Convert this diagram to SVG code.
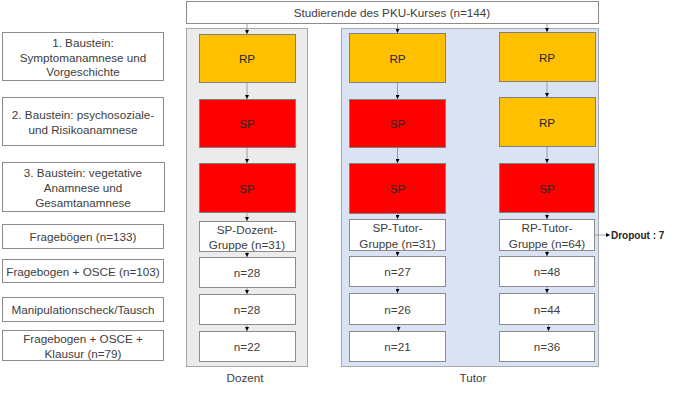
<svg xmlns="http://www.w3.org/2000/svg" width="683" height="393" viewBox="0 0 683 393">
<defs>
<marker id="ah" markerWidth="4" markerHeight="4" refX="4" refY="2" orient="auto" markerUnits="userSpaceOnUse"><path d="M0,0 L4,2 L0,4 z" fill="#000"/></marker>
<style>
text{font-family:"Liberation Sans",Arial,sans-serif;font-size:11.7px;fill:#404040;text-anchor:middle;dominant-baseline:central}
.box{fill:#fff;stroke:#8c8c8c;stroke-width:1}
.rp{fill:#ffc000;stroke:#7f7f7f;stroke-width:1}
.sp{fill:#ff0000;stroke:#7f7f7f;stroke-width:1}
.c{stroke:#8c8c8c;stroke-width:0.8;fill:none;marker-end:url(#ah)}
.in{fill:#262626}
</style>
</defs>
<rect x="0" y="0" width="683" height="393" fill="#fff"/>
<g id="panel-dozent"><rect x="186.5" y="28.5" width="121" height="338" fill="#ebebeb" stroke="#a6a6a6"/><text x="245" y="377">Dozent</text></g>
<g id="panel-tutor"><rect x="341.5" y="28.5" width="257" height="338" fill="#dae3f3" stroke="#a6aab3"/><text x="473" y="377">Tutor</text></g>
<g id="top"><rect class="box" x="186.5" y="1.5" width="412" height="22"/><text x="392" y="12.5">Studierende des PKU-Kurses (n=144)</text></g>
<g id="l1"><rect class="box" x="2.5" y="32.5" width="161" height="48"/><text x="83" y="42.5">1. Baustein:</text><text x="83" y="57">Symptomanamnese und</text><text x="83" y="71.5">Vorgeschichte</text></g>
<g id="l2"><rect class="box" x="2.5" y="97.5" width="161" height="48"/><text x="83" y="114.5">2. Baustein: psychosoziale-</text><text x="83" y="129.5">und Risikoanamnese</text></g>
<g id="l3"><rect class="box" x="2.5" y="162.5" width="162" height="49"/><text x="83" y="172">3. Baustein: vegetative</text><text x="83" y="187">Anamnese und</text><text x="83" y="202">Gesamtanamnese</text></g>
<g id="l4"><rect class="box" x="2.5" y="224.5" width="161" height="24"/><text x="83" y="236.5">Fragebögen (n=133)</text></g>
<g id="l5"><rect class="box" x="2.5" y="259.5" width="161" height="23"/><text x="83" y="271">Fragebogen + OSCE (n=103)</text></g>
<g id="l6"><rect class="box" x="2.5" y="297.5" width="161" height="24"/><text x="83" y="309.5">Manipulationscheck/Tausch</text></g>
<g id="l7"><rect class="box" x="2.5" y="330.5" width="161" height="30"/><text x="83" y="338.5">Fragebogen + OSCE +</text><text x="83" y="353.5">Klausur (n=79)</text></g>
<g id="d1"><rect class="rp" x="199.5" y="34.5" width="96" height="48"/><text class="in" x="247" y="58.5">RP</text></g>
<g id="d2"><rect class="sp" x="199.5" y="99.5" width="96" height="48"/><text class="in" x="247" y="123.5">SP</text></g>
<g id="d3"><rect class="sp" x="199.5" y="163.5" width="96" height="49"/><text class="in" x="247" y="188">SP</text></g>
<g id="d4"><rect class="box" x="199.5" y="221.5" width="96" height="30"/><text x="247" y="229">SP-Dozent-</text><text x="247" y="244.5">Gruppe (n=31)</text></g>
<g id="d5"><rect class="box" x="199.5" y="257.5" width="96" height="30"/><text x="247" y="272.5">n=28</text></g>
<g id="d6"><rect class="box" x="199.5" y="294.5" width="96" height="30"/><text x="247" y="309.5">n=28</text></g>
<g id="d7"><rect class="box" x="199.5" y="331.5" width="96" height="30"/><text x="247" y="346.5">n=22</text></g>
<g id="s1"><rect class="rp" x="349.5" y="33.5" width="96" height="49"/><text class="in" x="397.5" y="58">RP</text></g>
<g id="s2"><rect class="sp" x="349.5" y="99.5" width="96" height="48"/><text class="in" x="397.5" y="123.5">SP</text></g>
<g id="s3"><rect class="sp" x="349.5" y="163.5" width="96" height="50"/><text class="in" x="397.5" y="188.5">SP</text></g>
<g id="s4"><rect class="box" x="349.5" y="219.5" width="96" height="31"/><text x="397.5" y="227.5">SP-Tutor-</text><text x="397.5" y="243">Gruppe (n=31)</text></g>
<g id="s5"><rect class="box" x="349.5" y="256.5" width="96" height="30"/><text x="397.5" y="271.5">n=27</text></g>
<g id="s6"><rect class="box" x="349.5" y="293.5" width="96" height="31"/><text x="397.5" y="309">n=26</text></g>
<g id="s7"><rect class="box" x="349.5" y="331.5" width="96" height="30"/><text x="397.5" y="346.5">n=21</text></g>
<g id="r1"><rect class="rp" x="499.5" y="32.5" width="96" height="49"/><text class="in" x="547" y="57">RP</text></g>
<g id="r2"><rect class="rp" x="499.5" y="97.5" width="96" height="49"/><text class="in" x="547" y="122">RP</text></g>
<g id="r3"><rect class="sp" x="499.5" y="163.5" width="95" height="49"/><text class="in" x="547" y="188">SP</text></g>
<g id="r4"><rect class="box" x="499.5" y="219.5" width="95" height="31"/><text x="547" y="227.5">RP-Tutor-</text><text x="547" y="243">Gruppe (n=64)</text></g>
<g id="r5"><rect class="box" x="499.5" y="256.5" width="95" height="30"/><text x="547" y="271.5">n=48</text></g>
<g id="r6"><rect class="box" x="499.5" y="293.5" width="95" height="31"/><text x="547" y="309">n=44</text></g>
<g id="r7"><rect class="box" x="499.5" y="331.5" width="95" height="30"/><text x="547" y="346.5">n=36</text></g>
<g id="dropout"><text x="611" y="235" style="text-anchor:start;font-size:10px;font-weight:bold;fill:#262626">Dropout : 7</text></g>
<g id="connectors">
<path class="c" d="M247,24 V34"/><path class="c" d="M247,83 V99"/><path class="c" d="M247,148 V163"/><path class="c" d="M247,213 V221"/><path class="c" d="M247,252 V257"/><path class="c" d="M247,288 V294"/><path class="c" d="M247,325 V331"/>
<path class="c" d="M397.5,24 V33"/><path class="c" d="M397.5,83 V99"/><path class="c" d="M397.5,148 V163"/><path class="c" d="M397.5,214 V219"/><path class="c" d="M397.5,251 V256"/><path class="c" d="M397.5,287 V293"/><path class="c" d="M398.5,325 V331"/>
<path class="c" d="M547,24 V32"/><path class="c" d="M547,82 V97"/><path class="c" d="M547,147 V163"/><path class="c" d="M547,213 V219"/><path class="c" d="M547,251 V256"/><path class="c" d="M547,287 V293"/><path class="c" d="M548.5,325 V331"/>
<path class="c" d="M595,235 H610"/>
</g>
</svg>
